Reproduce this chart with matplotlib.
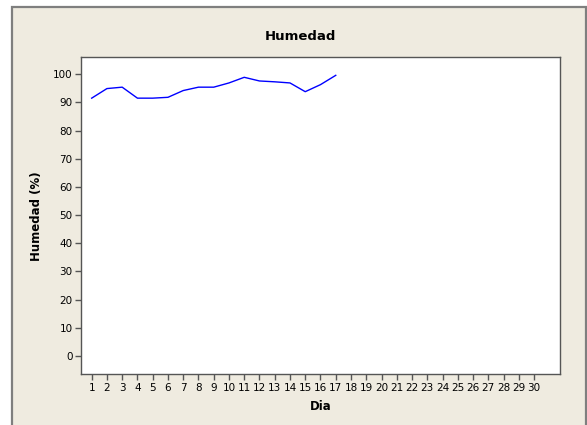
import matplotlib
matplotlib.use("Agg")
import matplotlib.pyplot as plt
from matplotlib.patches import Rectangle

# datos
dias = [1, 2, 3, 4, 5, 6, 7, 8, 9, 10, 11, 12, 13, 14, 15, 16, 17]
humedad = [91.5, 94.9, 95.4, 91.5, 91.5, 91.8, 94.2, 95.4, 95.4, 96.9,
           98.9, 97.6, 97.3, 96.9, 93.8, 96.3, 99.6]
xticks = list(range(1, 31))
yticks = list(range(0, 101, 10))

W, H = 587, 425
fig = plt.figure(figsize=(W / 100, H / 100), dpi=100)
fig.patch.set_facecolor("white")

# marco exterior beige
fig.patches.append(Rectangle((11.5 / W, -0.02), (586 - 11.5) / W, 1.02 - 6.5 / H,
                             transform=fig.transFigure, facecolor="#efebe0",
                             edgecolor="#7f7f7f", linewidth=1.6, zorder=-10))

ax = fig.add_axes([81 / W, 1 - 374.3 / H, (560.3 - 81) / W, (374.3 - 57.3) / H])
ax.set_zorder(5)
ax.set_facecolor("white")
ax.plot(dias, humedad, color="#0000ff", linewidth=1.0)

ax.set_xlim(0.3, 31.72)
ax.set_ylim(-6.5, 106.0)
ax.set_xticks(xticks)
ax.set_yticks(yticks)
ax.tick_params(direction="out", length=4, width=1, color="#555555",
               labelsize=7.5, pad=2)
for s in ax.spines.values():
    s.set_color("#555555")
    s.set_linewidth(1.0)

ax.set_xlabel("Dia", fontsize=8.5, fontweight="bold", labelpad=5)
ax.set_ylabel("Humedad (%)", fontsize=8.5, fontweight="bold", labelpad=7)
fig.text(300 / W, 1 - 37 / H, "Humedad", ha="center", va="center",
         fontsize=9.5, fontweight="bold", zorder=6)

fig.savefig("out.png", dpi=100, facecolor=fig.get_facecolor())
